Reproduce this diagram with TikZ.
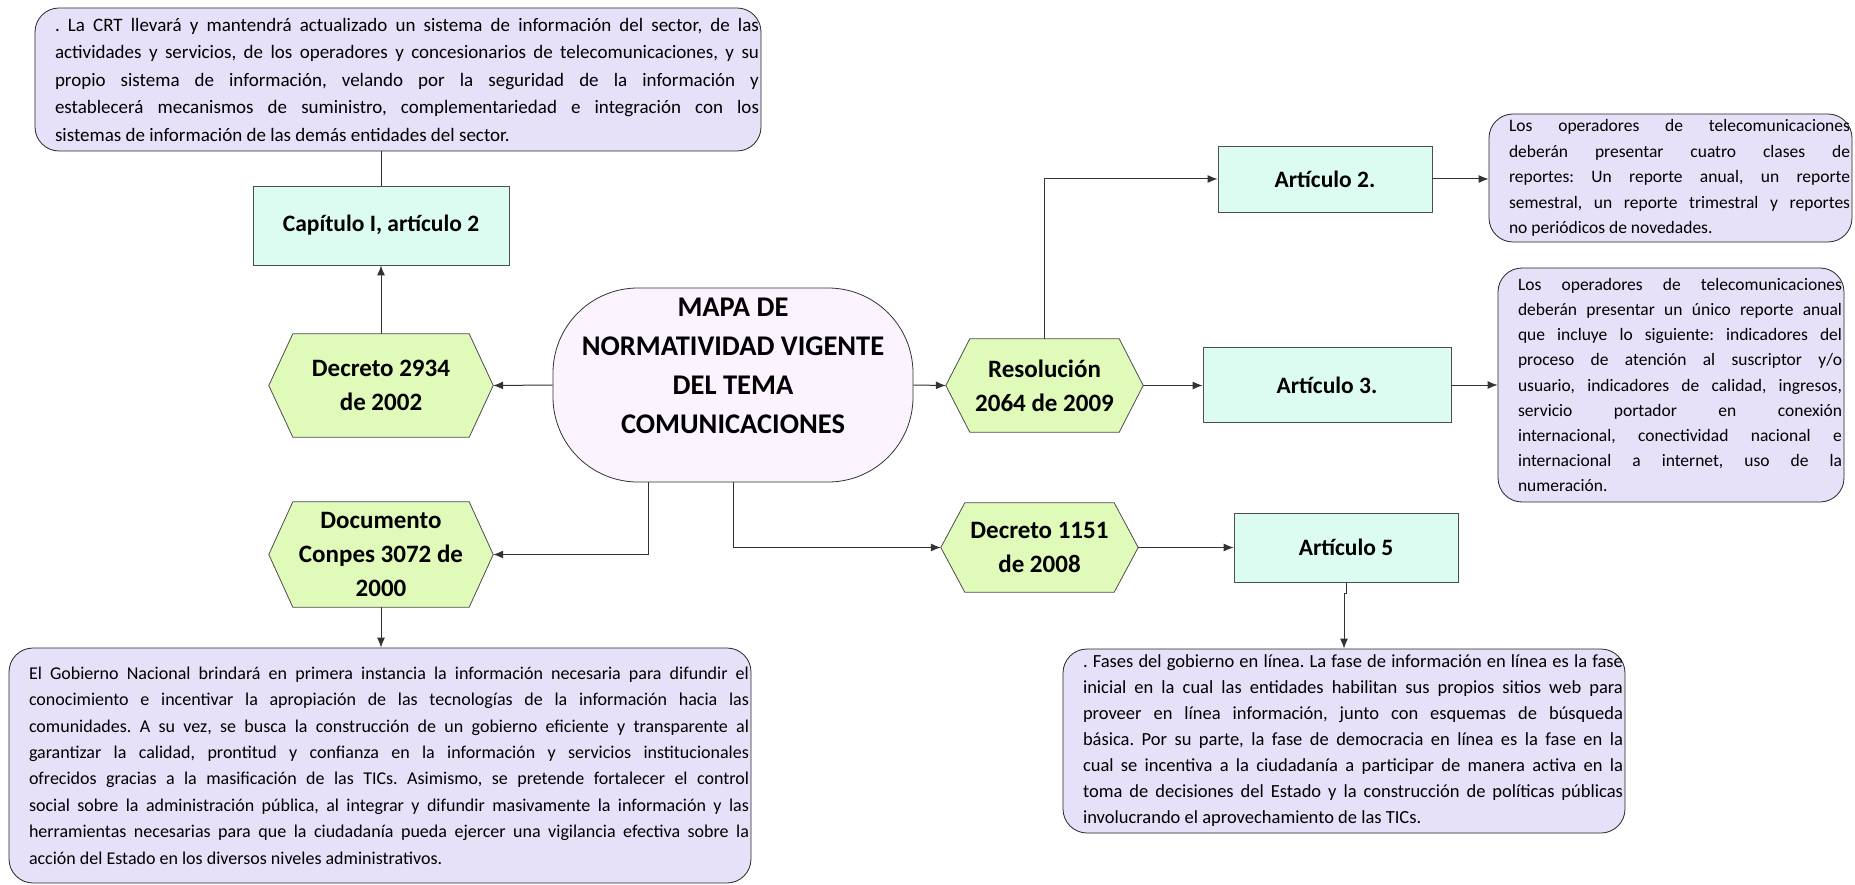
\documentclass[tikz,border=0pt]{standalone}
\usepackage{fontspec}
\setmainfont{Carlito}
\usetikzlibrary{arrows.meta,backgrounds}
\definecolor{lavbox}{RGB}{230,224,248}
\definecolor{mintbox}{RGB}{221,252,241}
\definecolor{limebox}{RGB}{224,250,185}
\definecolor{mapabox}{RGB}{251,243,253}
\begin{document}
\frenchspacing\tolerance=10000\hyphenpenalty=10000
\begin{tikzpicture}[x=1pt, y=-1pt,
		txtbox/.style={draw=black!85, line width=0.8pt, fill=lavbox, rounded corners=24pt, align=justify, inner xsep=2pt, inner ysep=0pt, execute at begin node={\leftskip=18pt\relax}},
		artbox/.style={draw=black!70, line width=0.8pt, fill=mintbox, font=\bfseries\fontsize{23.5}{33}\selectfont},
		hexbox/.style={minimum width=224pt, align=center, font=\bfseries\fontsize{25}{34}\selectfont},
		arr/.style={draw=black!80, line width=1pt, -{Latex[length=10pt,width=8pt]}},
		link/.style={draw=black!80, line width=1pt}]
		\useasboundingbox (0,0) rectangle (1855,885);
		\node[txtbox, text width=722pt, minimum width=726pt, minimum height=143pt, font=\fontsize{19}{27.5}\selectfont] (crt) at (398,79.5) {. La CRT llevará y mantendrá actualizado un sistema de información del sector, de las\linebreak actividades y servicios, de los operadores y concesionarios de telecomunicaciones, y su\linebreak propio sistema de información, velando por la seguridad de la información y\linebreak establecerá mecanismos de suministro, complementariedad e integración con los\linebreak sistemas de información de las demás entidades del sector.};
		\node[artbox, minimum width=256pt, minimum height=79pt] (cap) at (381,225.5) {Capítulo I, artículo 2};
		\node[hexbox, minimum height=103pt] (dec2934) at (381,385.5) {Decreto 2934\\de 2002};
		\node[draw=black!80, line width=0.8pt, fill=mapabox, rounded corners=85pt, minimum width=360pt, minimum height=194pt, font=\bfseries\fontsize{28.5}{39}\selectfont] (mapa) at (733,385) {\raisebox{18pt}[\height][\depth]{\begin{tabular}{@{}c@{}}MAPA DE\\NORMATIVIDAD VIGENTE\\DEL TEMA\\COMUNICACIONES\end{tabular}}};
		\node[hexbox, minimum height=105pt] (conpes) at (381,554.5) {Documento\\Conpes 3072 de\\2000};
		\node[txtbox, text width=738pt, minimum width=742pt, minimum height=235pt, font=\fontsize{18}{26.4}\selectfont] (gobierno) at (380,765.5) {El Gobierno Nacional brindará en primera instancia la información necesaria para difundir el\linebreak conocimiento e incentivar la apropiación de las tecnologías de la información hacia las\linebreak comunidades. A su vez, se busca la construcción de un gobierno eficiente y transparente al\linebreak garantizar la calidad, prontitud y confianza en la información y servicios institucionales\linebreak ofrecidos gracias a la masificación de las TICs. Asimismo, se pretende fortalecer el control\linebreak social sobre la administración pública, al integrar y difundir masivamente la información y las\linebreak herramientas necesarias para que la ciudadanía pueda ejercer una vigilancia efectiva sobre la\linebreak acción del Estado en los diversos niveles administrativos.};
		\node[hexbox, minimum width=197pt, minimum height=93pt] (res2064) at (1044.5,385.5) {Resolución\\2064 de 2009};
		\node[artbox, minimum width=214pt, minimum height=66pt] (art2) at (1325,179) {Artículo 2.};
		\node[artbox, minimum width=248pt, minimum height=75pt] (art3) at (1327,385) {Artículo 3.};
		\node[txtbox, text width=359pt, minimum width=363pt, minimum height=128pt, font=\fontsize{17.5}{25.4}\selectfont] (reportes) at (1670.5,178) {Los operadores de telecomunicaciones\linebreak deberán presentar cuatro clases de\linebreak reportes: Un reporte anual, un reporte\linebreak semestral, un reporte trimestral y reportes\linebreak no periódicos de novedades.};
		\node[txtbox, text width=342pt, minimum width=346pt, minimum height=234pt, font=\fontsize{17.5}{25.1}\selectfont] (anual) at (1671,385) {Los operadores de telecomunicaciones\linebreak deberán presentar un único reporte anual\linebreak que incluye lo siguiente: indicadores del\linebreak proceso de atención al suscriptor y/o\linebreak usuario, indicadores de calidad, ingresos,\linebreak servicio portador en conexión\linebreak internacional, conectividad nacional e\linebreak internacional a internet, uso de la\linebreak numeración.};
		\node[hexbox, minimum width=197pt, minimum height=89pt] (dec1151) at (1039.5,547.5) {Decreto 1151\\de 2008};
		\node[artbox, minimum width=224pt, minimum height=69pt] (art5) at (1346,547.5) {Artículo 5};
		\node[txtbox, text width=558pt, minimum width=562pt, minimum height=184pt, font=\fontsize{18.5}{26}\selectfont] (fases) at (1344,741) {. Fases del gobierno en línea. La fase de información en línea es la fase\linebreak inicial en la cual las entidades habilitan sus propios sitios web para\linebreak proveer en línea información, junto con esquemas de búsqueda\linebreak básica. Por su parte, la fase de democracia en línea es la fase en la\linebreak cual se incentiva a la ciudadanía a participar de manera activa en la\linebreak toma de decisiones del Estado y la construcción de políticas públicas\linebreak involucrando el aprovechamiento de las TICs.};
		\begin{scope}[on background layer]
			\foreach \h in {dec2934, conpes, res2064, dec1151}
				\filldraw[draw=black!70, line width=0.8pt, fill=limebox] ([xshift=24pt]\h.north west) -- ([xshift=-24pt]\h.north east) -- (\h.east) -- ([xshift=-24pt]\h.south east) -- ([xshift=24pt]\h.south west) -- (\h.west) -- cycle;
		\end{scope}
		\draw[link] (cap.north) -- (cap.north |- crt.south);
		\draw[arr] (dec2934.north) -- (cap.south);
		\draw[arr] (mapa.west) -- (dec2934.east);
		\draw[arr] (mapa.east) -- (res2064.west);
		\draw[arr] ([xshift=-85pt]mapa.south) |- (conpes.east);
		\draw[arr] (mapa.south) |- (dec1151.west);
		\draw[arr] (conpes.south) -- (conpes.south |- gobierno.north);
		\draw[arr] (res2064.north) |- (art2.west);
		\draw[arr] (res2064.east) -- (res2064.east -| art3.west);
		\draw[arr] (art2.east) -- (art2.east -| reportes.west);
		\draw[arr] (art3.east) -- (art3.east -| anual.west);
		\draw[arr] (dec1151.east) -- (art5.west);
		\draw[arr] (art5.south) -- ++(0,11) -- ++(-2,0) -- (fases.north);
	\end{tikzpicture}
\end{document}
